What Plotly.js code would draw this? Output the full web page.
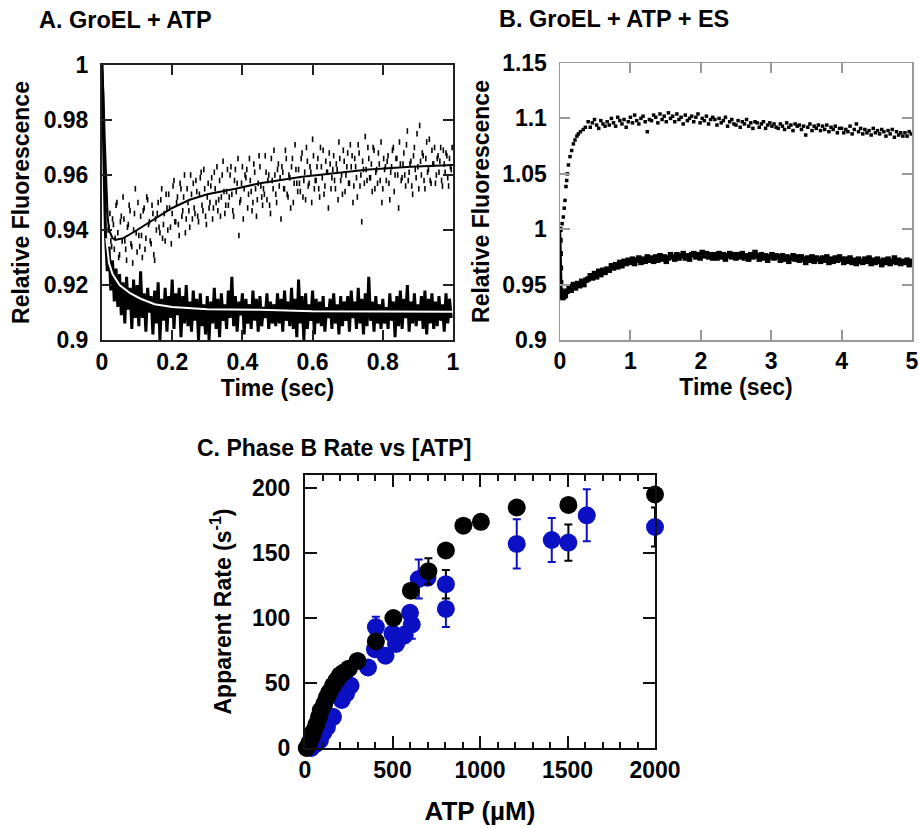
<!DOCTYPE html>
<html>
<head>
<meta charset="utf-8">
<script src="https://cdn.plot.ly/plotly-3.0.1.min.js"></script>
<style>html,body{margin:0;padding:0;background:#fff;}#chart{width:919px;height:828px;}</style>
</head>
<body>
<div id="chart"></div>
<script>
// ---------- Panel A: GroEL + ATP ----------
// upper scattered trace, two interleaved sample sets (start t0, step dt in seconds)
const A_dots_t0 = 0.01, A_dots_dt = 0.005;
const A_dots = [
0.958,0.947,0.941,0.936,0.944,0.933,0.949,0.939,0.931,0.945,
0.952,0.936,0.929,0.942,0.947,0.934,0.940,0.955,0.932,0.938,
0.945,0.930,0.948,0.937,0.951,0.943,0.935,0.946,0.929,0.940,
0.950,0.939,0.955,0.942,0.936,0.948,0.953,0.941,0.946,0.958,
0.943,0.952,0.938,0.955,0.947,0.960,0.944,0.950,0.941,0.953,
0.957,0.946,0.954,0.943,0.959,0.949,0.962,0.945,0.952,0.948,
0.956,0.944,0.961,0.950,0.947,0.958,0.952,0.965,0.946,0.954,
0.949,0.960,0.953,0.945,0.962,0.957,0.938,0.951,0.963,0.955,
0.959,0.948,0.966,0.954,0.950,0.961,0.945,0.957,0.963,0.952,
0.955,0.967,0.951,0.960,0.946,0.958,0.969,0.953,0.962,0.956,
0.944,0.961,0.955,0.966,0.952,0.959,0.963,0.950,0.971,0.957,
0.962,0.954,0.968,0.958,0.951,0.965,0.957,0.961,0.973,0.955,
0.958,0.966,0.952,0.963,0.969,0.956,0.961,0.948,0.964,0.959,
0.967,0.955,0.962,0.972,0.958,0.953,0.965,0.960,0.968,0.957,
0.963,0.950,0.966,0.959,0.971,0.956,0.943,0.962,0.974,0.958,
0.966,0.959,0.954,0.969,0.961,0.957,0.964,0.972,0.955,0.962,
0.958,0.967,0.951,0.963,0.970,0.960,0.966,0.948,0.964,0.959,
0.968,0.956,0.976,0.961,0.965,0.953,0.970,0.959,0.963,0.978,
0.960,0.967,0.955,0.972,0.962,0.958,0.969,0.964,0.957,0.966,
0.961,0.970,0.956,0.964,0.968,0.959,0.966,0.962];
const A_dots2_t0 = 0.0125, A_dots2_dt = 0.005;
const A_dots2 = [
0.951,0.940,0.946,0.934,0.942,0.937,0.950,0.930,0.943,0.936,
0.944,0.933,0.941,0.949,0.935,0.928,0.946,0.939,0.950,0.934,
0.938,0.947,0.933,0.952,0.942,0.936,0.949,0.931,0.944,0.946,
0.941,0.951,0.937,0.946,0.953,0.940,0.948,0.935,0.956,0.943,
0.950,0.942,0.957,0.945,0.952,0.939,0.955,0.947,0.960,0.944,
0.948,0.958,0.945,0.953,0.961,0.947,0.955,0.942,0.957,0.950,
0.959,0.948,0.955,0.963,0.951,0.945,0.960,0.954,0.949,0.962,
0.952,0.963,0.947,0.958,0.954,0.966,0.950,0.957,0.944,0.960,
0.962,0.953,0.958,0.947,0.964,0.955,0.951,0.967,0.956,0.949,
0.953,0.961,0.958,0.949,0.966,0.955,0.960,0.950,0.964,0.959,
0.963,0.955,0.969,0.953,0.960,0.948,0.966,0.957,0.962,0.954,
0.957,0.966,0.952,0.961,0.970,0.956,0.963,0.950,0.967,0.958,
0.963,0.955,0.970,0.959,0.953,0.965,0.961,0.968,0.955,0.962,
0.958,0.964,0.951,0.966,0.960,0.969,0.954,0.963,0.957,0.971,
0.967,0.956,0.963,0.952,0.968,0.960,0.965,0.957,0.962,0.970,
0.959,0.964,0.970,0.955,0.962,0.968,0.958,0.950,0.966,0.963,
0.965,0.957,0.961,0.969,0.954,0.966,0.960,0.972,0.958,0.964,
0.960,0.971,0.958,0.964,0.956,0.967,0.962,0.975,0.955,0.965,
0.968,0.958,0.966,0.961,0.973,0.957,0.964,0.970,0.960,0.967,
0.965,0.958,0.969,0.961,0.967,0.956,0.963,0.970];
// fit through the upper trace
const A_fitT = [0,0.004,0.008,0.012,0.016,0.02,0.03,0.04,0.06,0.1,0.15,0.2,0.25,0.3,0.38,0.45,0.57,0.65,0.76,0.88,1.0];
const A_fitY = [1.0,0.99,0.972,0.955,0.945,0.940,0.937,0.9365,0.937,0.940,0.944,0.948,0.951,0.953,0.955,0.957,0.9594,0.9605,0.962,0.963,0.9636];
// lower noisy trace (line)
const A_line_t0 = 0, A_line_dt = 0.005;
const A_line = [
1.0,0.962,0.938,0.925,0.934,0.918,0.929,0.914,0.926,0.912,
0.924,0.909,0.921,0.906,0.923,0.911,0.919,0.904,0.922,0.908,
0.920,0.905,0.925,0.908,0.917,0.903,0.919,0.910,0.916,0.902,
0.918,0.906,0.921,0.900,0.915,0.907,0.919,0.903,0.916,0.908,
0.922,0.904,0.917,0.909,0.919,0.901,0.916,0.906,0.920,0.905,
0.914,0.903,0.918,0.907,0.915,0.900,0.917,0.905,0.913,0.902,
0.916,0.900,0.914,0.906,0.919,0.904,0.915,0.901,0.917,0.907,
0.913,0.904,0.918,0.908,0.923,0.905,0.916,0.903,0.914,0.909,
0.917,0.902,0.915,0.906,0.913,0.904,0.918,0.907,0.915,0.903,
0.916,0.905,0.912,0.908,0.917,0.904,0.914,0.906,0.913,0.905,
0.917,0.906,0.915,0.903,0.918,0.907,0.914,0.905,0.919,0.904,
0.915,0.901,0.922,0.906,0.916,0.900,0.917,0.904,0.913,0.907,
0.918,0.902,0.915,0.906,0.914,0.905,0.916,0.903,0.912,0.908,
0.915,0.904,0.917,0.906,0.913,0.902,0.916,0.905,0.914,0.907,
0.916,0.903,0.918,0.908,0.914,0.904,0.919,0.906,0.915,0.902,
0.917,0.905,0.923,0.907,0.914,0.903,0.916,0.906,0.913,0.904,
0.915,0.906,0.912,0.904,0.917,0.907,0.914,0.901,0.916,0.905,
0.918,0.904,0.915,0.908,0.920,0.903,0.914,0.906,0.917,0.905,
0.913,0.907,0.916,0.904,0.918,0.902,0.915,0.906,0.917,0.904,
0.914,0.905,0.916,0.907,0.913,0.903,0.917,0.906,0.915,0.908];
// white fit through the lower trace
const A_wfitT = [0.012,0.015,0.02,0.03,0.05,0.08,0.11,0.15,0.2,0.3,0.45,0.6,1.0];
const A_wfitY = [0.937,0.934,0.928,0.924,0.920,0.917,0.915,0.913,0.912,0.9112,0.911,0.9105,0.9103];

// ---------- Panel B: GroEL + ATP + ES ----------
const B_upRiseT = [0.01,0.03,0.047,0.06,0.071,0.085,0.095,0.104,0.12,0.142,0.166,0.19,0.213,0.24,0.26,0.29,0.33,0.36];
const B_upRiseY = [0.999,1.005,1.011,1.019,1.026,1.0385,1.044,1.050,1.058,1.0655,1.071,1.077,1.0805,1.084,1.086,1.088,1.090,1.092];
const B_up_t0 = 0.4, B_up_dt = 0.03;
const B_up = [
1.097,1.092,1.096,1.099,1.094,1.091,1.098,1.095,1.093,1.097,
1.094,1.100,1.096,1.093,1.101,1.098,1.095,1.099,1.092,1.097,
1.101,1.096,1.103,1.098,1.095,1.100,1.102,1.097,1.088,1.099,
1.098,1.103,1.101,1.096,1.104,1.099,1.102,1.097,1.105,1.100,
1.102,1.097,1.104,1.099,1.101,1.095,1.103,1.098,1.100,1.102,
1.097,1.101,1.104,1.096,1.100,1.098,1.102,1.095,1.099,1.101,
1.099,1.094,1.100,1.096,1.098,1.101,1.093,1.097,1.099,1.095,
1.094,1.098,1.092,1.097,1.095,1.099,1.093,1.096,1.091,1.097,
1.096,1.092,1.095,1.097,1.091,1.094,1.096,1.093,1.095,1.092,
1.091,1.095,1.093,1.090,1.096,1.092,1.094,1.089,1.095,1.093,
1.094,1.090,1.093,1.085,1.092,1.095,1.089,1.093,1.091,1.094,
1.089,1.093,1.090,1.094,1.088,1.092,1.090,1.093,1.087,1.091,
1.091,1.087,1.090,1.088,1.093,1.086,1.090,1.095,1.088,1.091,
1.086,1.090,1.087,1.089,1.085,1.091,1.087,1.089,1.086,1.090,
1.088,1.084,1.089,1.086,1.090,1.083,1.088,1.085,1.087,1.084,
1.087,1.084,1.088,1.086];
const B_lowDropT = [0,0.003,0.006,0.009,0.012,0.015,0.02,0.03,0.04,0.05,0.06,0.07,0.08,0.09];
const B_lowDropY = [1.0,0.99,0.978,0.965,0.952,0.945,0.941,0.939,0.938,0.941,0.939,0.943,0.940,0.944];
const B_low_t0 = 0.1, B_low_dt = 0.03;
const B_low = [
0.944,0.948,0.945,0.950,0.947,0.951,0.949,0.953,0.950,0.954,
0.955,0.958,0.956,0.960,0.957,0.962,0.959,0.963,0.961,0.964,
0.963,0.967,0.965,0.968,0.966,0.970,0.967,0.971,0.969,0.972,
0.970,0.973,0.969,0.972,0.974,0.970,0.973,0.971,0.975,0.972,
0.974,0.971,0.975,0.972,0.976,0.973,0.975,0.971,0.974,0.977,
0.975,0.973,0.977,0.974,0.976,0.978,0.974,0.976,0.973,0.977,
0.978,0.975,0.977,0.974,0.979,0.976,0.978,0.975,0.977,0.974,
0.977,0.974,0.978,0.975,0.977,0.973,0.976,0.978,0.975,0.977,
0.974,0.977,0.975,0.978,0.974,0.976,0.973,0.977,0.975,0.979,
0.976,0.973,0.977,0.974,0.976,0.972,0.975,0.977,0.974,0.976,
0.975,0.972,0.976,0.973,0.975,0.971,0.974,0.976,0.973,0.975,
0.972,0.975,0.973,0.970,0.974,0.972,0.975,0.971,0.974,0.973,
0.971,0.974,0.972,0.975,0.970,0.973,0.971,0.974,0.972,0.975,
0.973,0.970,0.973,0.971,0.974,0.970,0.972,0.969,0.973,0.971,
0.970,0.973,0.971,0.974,0.969,0.972,0.970,0.973,0.971,0.968,
0.972,0.970,0.973,0.969,0.971,0.974,0.970,0.972,0.969,0.971,
0.970,0.972,0.968,0.971];

// ---------- Panel C: Phase B rate vs [ATP] ----------
const C_blackATP  = [10,25,40,50,65,80,90,110,125,140,160,180,200,220,250,300,405,505,605,705,805,905,1005,1210,1505,2000];
const C_blackRate = [0,4,9,13,18,24,29,34,39,43,48,52,56,58,61,67,82,100,121,136,152,171,174,185,187,195];
const C_blackErr  = [0,0,0,0,0,0,0,0,0,0,0,0,0,0,0,0,0,0,0,10,0,0,0,0,0,0];
const C_blueATP   = [35,60,85,105,125,160,210,235,260,360,400,460,500,520,545,600,700];
const C_blueRate  = [0,3,6,12,16,24,37,42,48,62,76,71,88,80,85,104,131];
const C_blueEbATP = [405,570,610,650,805,1210,1410,1610];
const C_blueEbRate= [93,87,95,130,107,157,160,179];
const C_blueEbErr = [8,6,11,15,14,19,17,20];
const C_blueKbATP = [805,1505,2000];
const C_blueKbRate= [126,158,170];
const C_blueKbErr = [11,14,15];

const xTicksC = [0,500,1000,1500,2000];

const BLUE = '#0c10c4';
const FONT = 'Liberation Sans, Arial, Helvetica, sans-serif';

const dashMarker = {symbol:'line-ns-open', size:4, color:'#000', line:{color:'#000', width:1.6}};
const traces = [
  {type:'scatter', mode:'markers', x0:A_dots_t0, dx:A_dots_dt, y:A_dots, xaxis:'x', yaxis:'y', marker:dashMarker},
  {type:'scatter', mode:'markers', x0:A_dots2_t0, dx:A_dots2_dt, y:A_dots2, xaxis:'x', yaxis:'y', marker:dashMarker},
  {type:'scatter', mode:'lines', x:A_fitT, y:A_fitY, xaxis:'x', yaxis:'y', line:{color:'#000', width:2}},
  {type:'scatter', mode:'lines', x0:A_line_t0, dx:A_line_dt, y:A_line, xaxis:'x', yaxis:'y', line:{color:'#000', width:3}},
  {type:'scatter', mode:'lines', x:A_wfitT, y:A_wfitY, xaxis:'x', yaxis:'y', line:{color:'#fff', width:2}},

  {type:'scatter', mode:'markers', x:B_upRiseT, y:B_upRiseY, xaxis:'x2', yaxis:'y2',
   marker:{symbol:'square', size:3.5, color:'#000'}},
  {type:'scatter', mode:'markers', x0:B_up_t0, dx:B_up_dt, y:B_up, xaxis:'x2', yaxis:'y2',
   marker:{symbol:'square', size:3.5, color:'#000'}},
  {type:'scatter', mode:'lines+markers', x:B_lowDropT, y:B_lowDropY, xaxis:'x2', yaxis:'y2',
   line:{color:'#000', width:2.5}, marker:{symbol:'square', size:5, color:'#000'}},
  {type:'scatter', mode:'markers', x0:B_low_t0, dx:B_low_dt, y:B_low, xaxis:'x2', yaxis:'y2',
   marker:{symbol:'square', size:5.5, color:'#000'}},

  {type:'scatter', mode:'markers', x:C_blueATP, y:C_blueRate, xaxis:'x3', yaxis:'y3', cliponaxis:false,
   marker:{size:18, color:BLUE}},
  {type:'scatter', mode:'markers', x:C_blueEbATP, y:C_blueEbRate, xaxis:'x3', yaxis:'y3', cliponaxis:false,
   marker:{size:18, color:BLUE},
   error_y:{type:'data', array:C_blueEbErr, visible:true, color:BLUE, thickness:2, width:4}},
  {type:'scatter', mode:'markers', x:C_blueKbATP, y:C_blueKbRate, xaxis:'x3', yaxis:'y3', cliponaxis:false,
   marker:{size:18, color:BLUE},
   error_y:{type:'data', array:C_blueKbErr, visible:true, color:'#000', thickness:2, width:4}},
  {type:'scatter', mode:'markers', x:C_blackATP, y:C_blackRate, xaxis:'x3', yaxis:'y3', cliponaxis:false,
   marker:{size:18, color:'#000'},
   error_y:{type:'data', array:C_blackErr, visible:true, color:'#000', thickness:2, width:4}}
];

function ax(o){
  return Object.assign({showgrid:false, zeroline:false, showline:true, mirror:'ticks', ticks:'inside',
    ticklen:10, tickwidth:2, linewidth:2, linecolor:'#222', tickcolor:'#222', automargin:false,
    tickfont:{family:FONT, size:23, color:'#000', weight:700}}, o);
}
const titleFont = {family:FONT, size:23, color:'#000', weight:700};

const layout = {
  width:919, height:828, margin:{l:0,r:0,t:0,b:0}, showlegend:false,
  paper_bgcolor:'#fff', plot_bgcolor:'#fff',
  font:{family:FONT, color:'#000'},
  xaxis: ax({domain:[102/919,453/919], range:[0,1], dtick:0.2, anchor:'y',
    title:{text:'Time (sec)', font:titleFont, standoff:2}}),
  yaxis: ax({domain:[1-340/828,1-65/828], range:[0.9,1], dtick:0.02, anchor:'x', ticklabelstandoff:7,
    title:{text:'Relative Fluorescence', font:titleFont, standoff:8}}),
  xaxis2: ax({domain:[560/919,912/919], range:[0,5], dtick:1, anchor:'y2', linecolor:'#999', tickcolor:'#999', linewidth:1.5,
    title:{text:'Time (sec)', font:titleFont, standoff:2}}),
  yaxis2: ax({domain:[1-340/828,1-63/828], range:[0.9,1.15], dtick:0.05, anchor:'x2', linecolor:'#999', tickcolor:'#999', linewidth:1.5,
    ticklabelstandoff:7,
    title:{text:'Relative Fluorescence', font:titleFont, standoff:6}}),
  xaxis3: ax({domain:[305/919,655/919], range:[0,2000], tickvals:xTicksC, anchor:'y3', ticklen:12, linecolor:'#111', tickcolor:'#111',
    minor:{dtick:100, ticklen:6, tickwidth:2, tickcolor:'#111', ticks:'inside'},
    title:{text:'ATP (µM)', font:{family:FONT, size:26, color:'#000', weight:700}, standoff:20}}),
  yaxis3: ax({domain:[1-748/828,1-475/828], range:[0,210], dtick:50, anchor:'x3', ticklen:12, linecolor:'#111', tickcolor:'#111',
    ticklabelstandoff:8,
    title:{text:'Apparent Rate (s<sup>-1</sup>)', font:{family:FONT, size:23, color:'#000', weight:700}, standoff:14}}),
  annotations:[
    {text:'A. GroEL + ATP', xref:'paper', yref:'paper', x:37/919, y:1-20/828, xanchor:'left', yanchor:'middle', showarrow:false,
     font:{family:FONT, size:23.5, color:'#000', weight:700}},
    {text:'B. GroEL + ATP + ES', xref:'paper', yref:'paper', x:497/919, y:1-19/828, xanchor:'left', yanchor:'middle', showarrow:false,
     font:{family:FONT, size:23.5, color:'#000', weight:700}},
    {text:'C. Phase B Rate vs [ATP]', xref:'paper', yref:'paper', x:195/919, y:1-448/828, xanchor:'left', yanchor:'middle', showarrow:false,
     font:{family:FONT, size:23, color:'#000', weight:700}}
  ]
};

Plotly.newPlot('chart', traces, layout, {staticPlot:true, displayModeBar:false});
</script>
</body>
</html>
